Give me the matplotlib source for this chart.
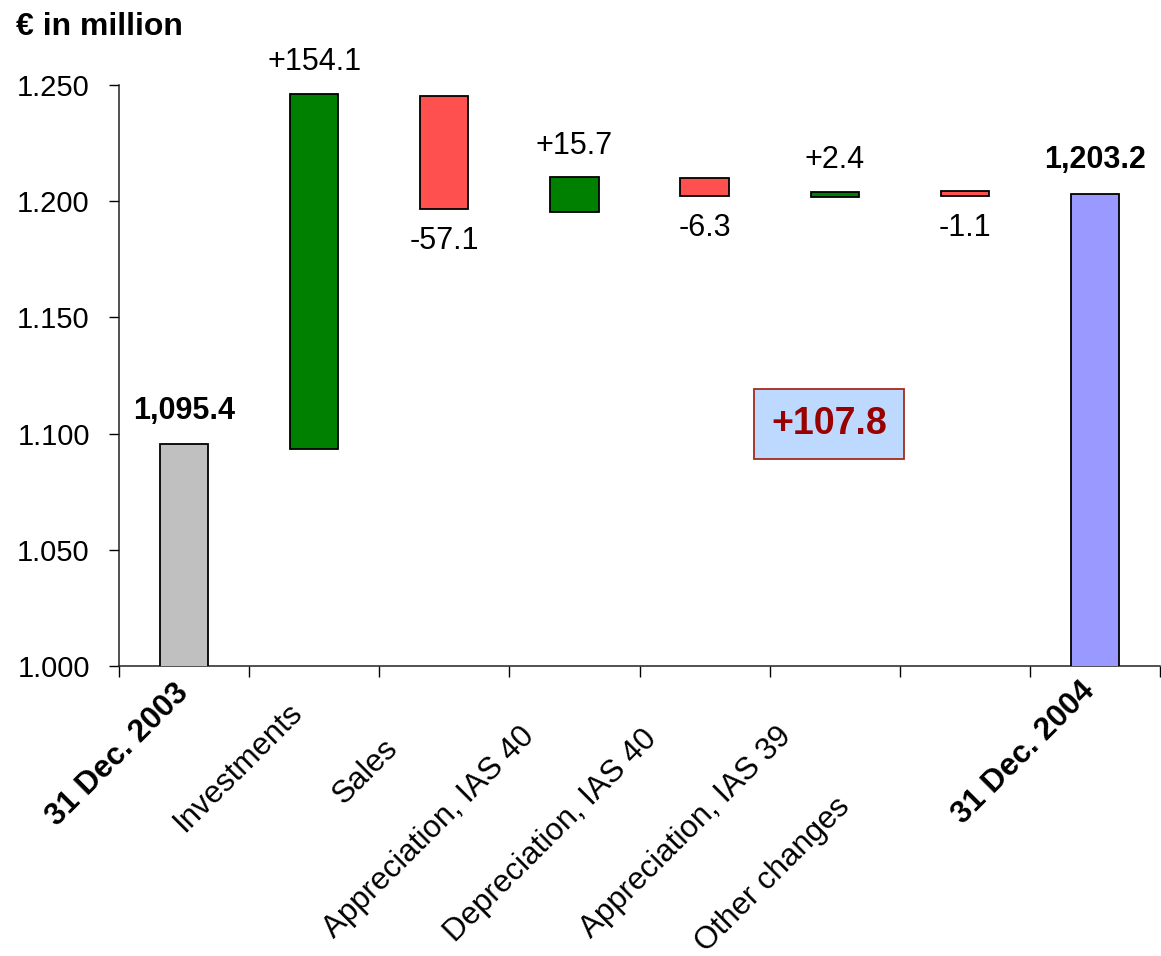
import numpy as np
import matplotlib.pyplot as plt
from matplotlib.ticker import FuncFormatter, FixedLocator

plt.rcParams['font.family'] = ['Liberation Sans', 'DejaVu Sans']

# ---- data ----
categories = ['31 Dec. 2003', 'Investments', 'Sales', 'Appreciation, IAS 40',
              'Depreciation, IAS 40', 'Appreciation, IAS 39', 'Other changes',
              '31 Dec. 2004']
bar_low = [0, 1093.4, 1196.6, 1195.2, 1202.4, 1201.8, 1202.4, 0]
bar_high = [1095.4, 1246.1, 1245.1, 1210.2, 1210.1, 1204.1, 1204.3, 1203.2]
value_labels = ['1,095.4', '+154.1', '-57.1', '+15.7', '-6.3', '+2.4', '-1.1', '1,203.2']
bar_kind = ['start', 'up', 'down', 'up', 'down', 'up', 'down', 'end']
net_change = '+107.8'

# ---- styling / layout ----
kind_color = {'start': '#C0C0C0', 'up': '#008000', 'down': '#FF5050', 'end': '#9999FF'}
bold_cat = [True, False, False, False, False, False, False, True]
# anchor of the rotated category labels (x in data units, px below axis)
lbl_x = [-0.08, 0.79, 1.53, 2.58, 3.52, 4.55, 5.0, 6.88]
lbl_dy = [12, 32, 67, 55, 58, 55, 126, 10]

fig = plt.figure(figsize=(11.61, 9.56), dpi=100)
ax = fig.add_axes([119 / 1161, 1 - 666 / 956, 1041 / 1161, 581 / 956])

x = np.arange(len(categories))
heights = np.array(bar_high) - np.array(bar_low)
colors = [kind_color[k] for k in bar_kind]
ax.bar(x, heights, bottom=bar_low, width=0.37, color=colors,
       edgecolor='black', linewidth=1.3, zorder=3)

# value labels
for i, lab in enumerate(value_labels):
    bold = bar_kind[i] in ('start', 'end')
    if bar_kind[i] == 'down':
        ax.annotate(lab, (x[i], bar_low[i]), xytext=(0, -23), textcoords='offset points',
                    ha='center', va='center', fontsize=22)
    else:
        ax.annotate(lab, (x[i], bar_high[i]), xytext=(0, 24 if bold else 23),
                    textcoords='offset points', ha='center', va='center',
                    fontsize=22, fontweight='bold' if bold else 'normal')

# net change box
ax.text(4.956, 1104, net_change, ha='center', va='center', fontsize=27,
        fontweight='bold', color='#990000', zorder=5,
        bbox=dict(boxstyle='square,pad=0.45', facecolor='#BDD9FF',
                  edgecolor='#A52A1A', linewidth=1.3))

ax.set_xlim(-0.5, len(categories) - 0.5)
ax.set_ylim(1000, 1250)
ax.yaxis.set_major_locator(FixedLocator([1000, 1050, 1100, 1150, 1200, 1250]))
ax.yaxis.set_major_formatter(FuncFormatter(lambda v, p: f'{v / 1000:.3f}'))
ax.set_xticks(np.arange(len(categories) + 1) - 0.5)
ax.set_xticklabels([])
ax.tick_params(axis='y', direction='out', length=7, width=1, labelsize=21, pad=14)
ax.tick_params(axis='x', direction='out', length=8, width=1)

for s in ['top', 'right']:
    ax.spines[s].set_visible(False)
for s in ['left', 'bottom']:
    ax.spines[s].set_linewidth(1.1)
    ax.spines[s].set_color('#222222')

# rotated category labels
trans = ax.get_xaxis_transform()
for i, cat in enumerate(categories):
    ax.text(lbl_x[i], -lbl_dy[i] / 581, cat, transform=trans, rotation=45,
            rotation_mode='anchor', ha='right', va='top', fontsize=22.5,
            fontweight='bold' if bold_cat[i] else 'normal', clip_on=False)

fig.text(16 / 1161, 1 - 35 / 956, '€ in million', fontsize=23, fontweight='bold',
         ha='left', va='baseline')

fig.savefig('out.png', dpi=100)
